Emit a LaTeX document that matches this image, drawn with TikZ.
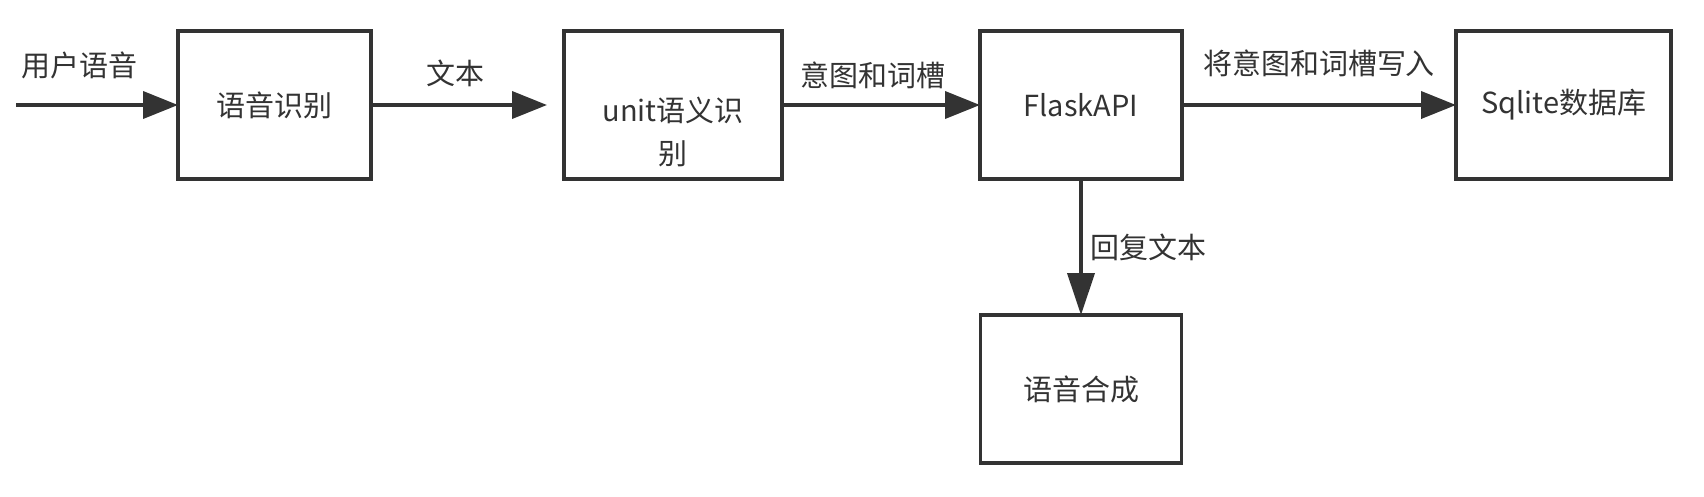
\documentclass[tikz,border=0pt]{standalone}
\usepackage{fontspec}
\setmainfont{Noto Sans CJK SC}
\usetikzlibrary{arrows.meta,positioning}
\definecolor{ink}{HTML}{333333}

\begin{document}
\begin{tikzpicture}[node distance=3.86cm and 3.86cm, line width=2.2pt, font=\fontsize{16.5}{24.5}\selectfont, box/.style = {draw=ink, text=ink, rectangle, align=center, minimum height=2.96cm, inner sep=0pt, outer sep=0pt}, lbl/.style = {text=ink, align=center, inner sep=0pt}, flow/.style = {draw=ink, -{Triangle[length=0.7cm,width=0.54cm]}}]
\useasboundingbox (0,0) rectangle (34.08,-9.92);
\coordinate (start) at (0.32,-2.10);

\node[box, minimum width=3.86cm] (asr) at (5.49,-2.10) {语音识别};
\node[box, minimum width=4.36cm] (nlu) [right=of asr] {};
\node[lbl] (nluText) at ([yshift=-0.54cm]nlu.center) {unit语义识\\别};
\node[box, minimum width=4.04cm] (flask) [right=3.96cm of nlu] {FlaskAPI};
\node[box, minimum width=4.30cm] (db) [right=5.48cm of flask] {Sqlite数据库};
\node[box, minimum width=4.02cm] (tts) [below=2.72cm of flask] {语音合成};

\draw[flow] (start) -- node[lbl, pos=0.39, yshift=0.8cm] {用户语音} (asr);
\draw[flow, shorten >=0.34cm] (asr) -- node[lbl, pos=0.44, yshift=0.64cm] {文本} (nlu);
\draw[flow] (nlu) -- node[lbl, pos=0.46, yshift=0.6cm] {意图和词槽} (flask);
\draw[flow] (flask) -- node[lbl, yshift=0.84cm] {将意图和词槽写入} (db);
\draw[flow, -{Triangle[length=0.84cm,width=0.54cm]}] (flask) -- node[lbl, right=0.16cm] {回复文本} (tts);
\end{tikzpicture}
\end{document}
